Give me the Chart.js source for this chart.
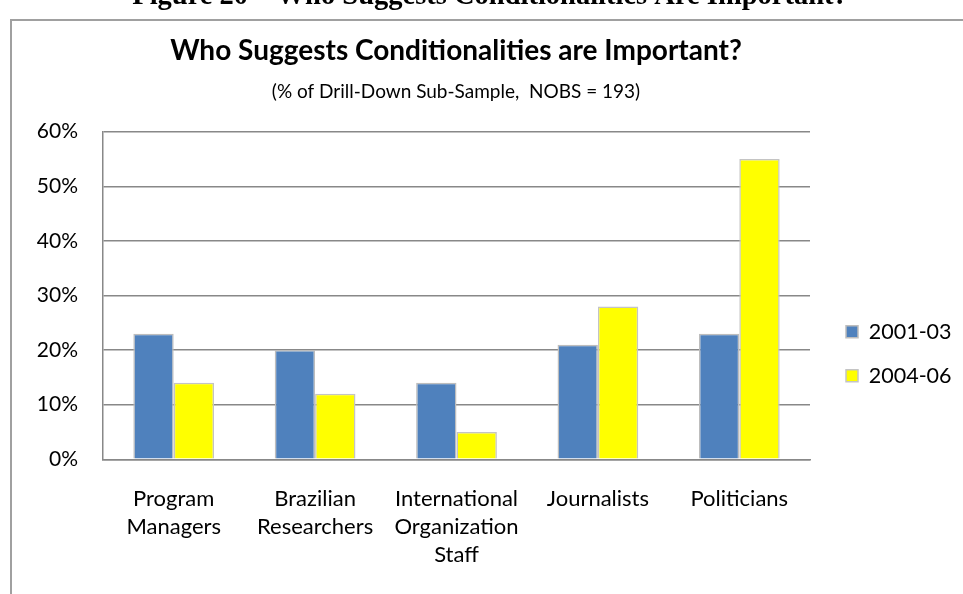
<!DOCTYPE html>
<html>
<head>
<meta charset="utf-8">
<title>Who Suggests Conditionalities are Important?</title>
<script src="https://cdn.jsdelivr.net/npm/chart.js@4.4.1/dist/chart.umd.min.js"></script>
<style>
  html, body { margin: 0; padding: 0; background: #fff; overflow: hidden; }
  #wrap { position: relative; width: 963px; height: 594px; }
</style>
</head>
<body>
<div id="wrap"><canvas id="condChart" width="963" height="594"></canvas></div>
<script>
// ---------------------------------------------
// Data - drill-down sub-sample by respondent group
// ---------------------------------------------
const categories = [
    ['Program', 'Managers'],
    ['Brazilian', 'Researchers'],
    ['International', 'Organization', 'Staff'],
    'Journalists',
    'Politicians'
];
const seriesNames = ['2001-03', '2004-06'];
const values2001 = [23, 20, 14, 21, 23];
const values2004 = [14, 12, 5, 28, 55];
const yTicks = [0, 10, 20, 30, 40, 50, 60];

const figureHeading = 'Figure 20 – Who Suggests Conditionalities Are Important?';
const chartTitle = 'Who Suggests Conditionalities are Important?';
const chartSubtitle = '(% of Drill-Down Sub-Sample,  NOBS = 193)';

const FONT = 'Lato, "Open Sans", sans-serif';
const GRID = '#888888';

// page heading (cut off at the top) + frame around the chart object
const pageFrame = {
    id: 'pageFrame',
    beforeDraw(chart) {
        const ctx = chart.ctx;
        ctx.save();
        ctx.strokeStyle = '#a0a0a0';
        ctx.lineWidth = 2;
        ctx.beginPath();
        ctx.moveTo(11, chart.height + 2);
        ctx.lineTo(11, 20);
        ctx.lineTo(chart.width + 2, 20);
        ctx.stroke();

        ctx.fillStyle = '#000';
        ctx.font = 'bold 28.5px "Liberation Serif", serif';
        ctx.textAlign = 'center';
        ctx.textBaseline = 'alphabetic';
        ctx.fillText(figureHeading, 490, 4);
        ctx.restore();
    }
};

// legend sits a bit below the middle, right of the plot
const legendSpot = {
    id: 'legendSpot',
    afterLayout(chart) {
        const lg = chart.legend;
        if (!lg) return;
        const pad = lg.options.labels.padding;
        const h = lg.height;
        lg.left = chart.chartArea.right + 36 - pad;
        lg.right = chart.width;
        lg.width = lg.right - lg.left;
        lg.top = 321 - pad;
        lg.bottom = lg.top + h;
    }
};

const ctx = document.getElementById('condChart').getContext('2d');

new Chart(ctx, {
    type: 'bar',
    data: {
        labels: categories,
        datasets: [
            {
                label: seriesNames[0],
                data: values2001,
                backgroundColor: '#4F81BD',
                borderColor: '#bdbdbd',
                borderWidth: 1.5,
                categoryPercentage: 0.571,
                barPercentage: 1
            },
            {
                label: seriesNames[1],
                data: values2004,
                backgroundColor: '#FFFF00',
                borderColor: '#c4c4c4',
                borderWidth: 1.5,
                categoryPercentage: 0.571,
                barPercentage: 1
            }
        ]
    },
    options: {
        responsive: false,
        animation: false,
        devicePixelRatio: 1,
        layout: { padding: { left: 0, right: 51, top: 0, bottom: 0 } },
        plugins: {
            title: {
                display: true,
                text: chartTitle,
                color: '#000',
                font: { family: FONT, size: 28, weight: 'bold' },
                padding: { top: 34.2, bottom: 6 }
            },
            subtitle: {
                display: true,
                text: chartSubtitle,
                color: '#000',
                font: { family: FONT, size: 19 },
                padding: { top: 6.8, bottom: 28.3 }
            },
            legend: {
                position: 'right',
                align: 'start',
                maxWidth: 102,
                labels: {
                    color: '#000',
                    font: { family: FONT, size: 21.5 },
                    boxWidth: 12,
                    boxHeight: 12,
                    padding: 22.5
                }
            },
            tooltip: { enabled: false }
        },
        scales: {
            x: {
                grid: { display: false, drawTicks: false },
                border: { display: true, color: GRID, width: 1.5 },
                ticks: {
                    color: '#000',
                    font: { family: FONT, size: 22, lineHeight: 1.27 },
                    padding: 26,
                    maxRotation: 0,
                    autoSkip: false
                },
                afterFit(scale) { scale.height = 134.7; }
            },
            y: {
                min: yTicks[0],
                max: yTicks[yTicks.length - 1],
                grid: { color: GRID, lineWidth: 1.5, drawTicks: false },
                border: { display: true, color: GRID, width: 1.5 },
                ticks: {
                    stepSize: yTicks[1] - yTicks[0],
                    color: '#000',
                    font: { family: FONT, size: 21 },
                    padding: 25,
                    callback: v => v + '%'
                },
                afterFit(scale) { scale.width = 103; }
            }
        }
    },
    plugins: [pageFrame, legendSpot]
});
</script>
</body>
</html>
